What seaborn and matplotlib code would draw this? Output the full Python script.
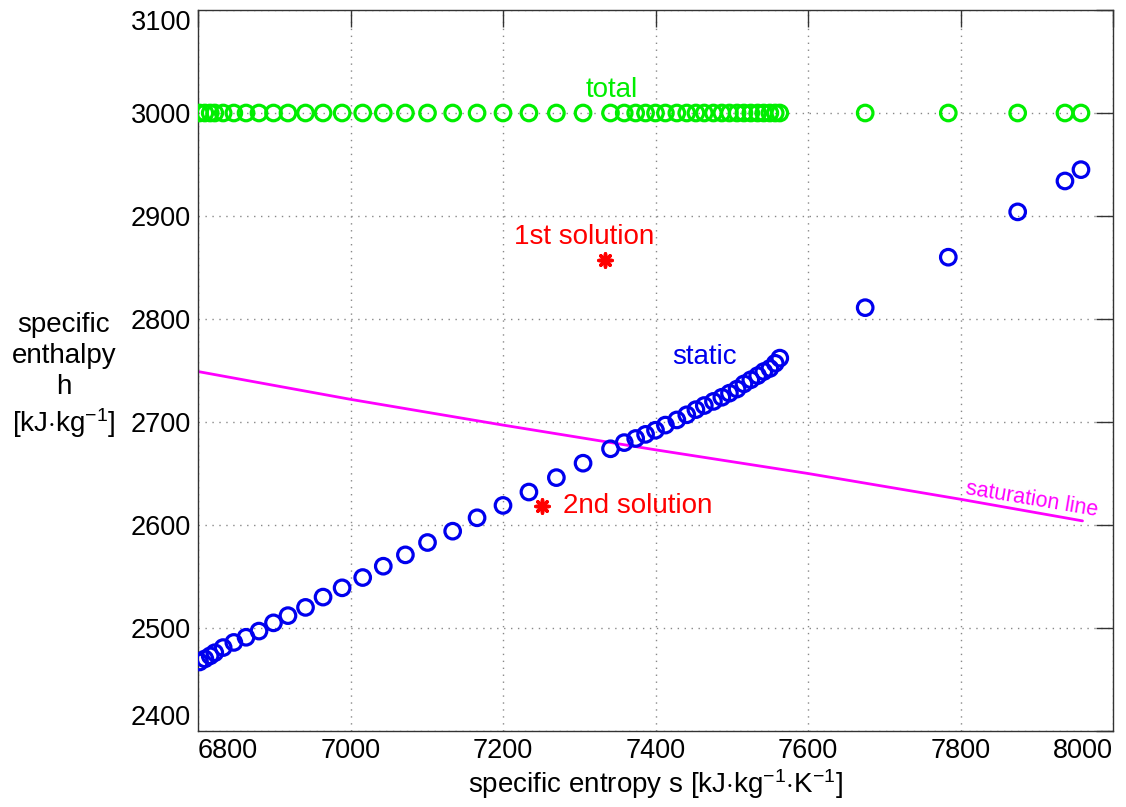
import matplotlib
matplotlib.use("Agg")
import matplotlib.pyplot as plt
import seaborn as sns
import pandas as pd

# ---- data ----
s_states = [6802, 6809, 6816, 6822, 6833, 6847, 6863, 6880, 6899, 6918,
            6941, 6964, 6989, 7016, 7043, 7072, 7101, 7134, 7166, 7200,
            7234, 7270, 7305, 7341, 7359, 7374, 7387, 7400, 7413, 7428,
            7441, 7453, 7464, 7476, 7487, 7497, 7507, 7516, 7525, 7534,
            7542, 7550, 7557, 7563, 7675, 7784, 7875, 7937, 7958]
h_total = [3000, 3000, 3000, 3000, 3000, 3000, 3000, 3000, 3000, 3000,
           3000, 3000, 3000, 3000, 3000, 3000, 3000, 3000, 3000, 3000,
           3000, 3000, 3000, 3000, 3000, 3000, 3000, 3000, 3000, 3000,
           3000, 3000, 3000, 3000, 3000, 3000, 3000, 3000, 3000, 3000,
           3000, 3000, 3000, 3000, 3000, 3000, 3000, 3000, 3000]
h_static = [2467, 2470, 2473, 2476, 2481, 2486, 2491, 2497, 2505, 2512,
            2520, 2530, 2539, 2549, 2560, 2571, 2583, 2594, 2607, 2619,
            2632, 2646, 2660, 2674, 2680, 2684, 2688, 2692, 2697, 2702,
            2707, 2712, 2716, 2720, 2724, 2728, 2732, 2737, 2741, 2745,
            2749, 2752, 2757, 2762, 2811, 2860, 2904, 2934, 2945]
sat_s = [6800, 7000, 7200, 7400, 7600, 7800, 7960]
sat_h = [2749, 2722, 2697, 2673, 2650, 2625, 2604]
sol_s = [7334, 7251]
sol_h = [2857, 2618]
sol_labels = ["1st solution", "2nd solution"]
xticks = [6800, 7000, 7200, 7400, 7600, 7800, 8000]
yticks = [2400, 2500, 2600, 2700, 2800, 2900, 3000, 3100]

sns.set_style("white")
plt.rcParams['font.family'] = ['Liberation Sans', 'DejaVu Sans']
plt.rcParams['mathtext.fontset'] = 'custom'
plt.rcParams['mathtext.rm'] = 'Liberation Sans'
plt.rcParams['mathtext.it'] = 'Liberation Sans'
plt.rcParams['text.color'] = 'black'
plt.rcParams['axes.labelcolor'] = 'black'

FS = 20

fig = plt.figure(figsize=(11.26, 8.07), dpi=100)
ax = fig.add_axes([198/1126, 1-731/807, (1113-198)/1126, (731-10)/807])

df = pd.DataFrame({"s": s_states, "ht": h_total, "hs": h_static})

ax.grid(True, linestyle=(0, (1, 4)), color='#888888', linewidth=1.0)
ax.set_axisbelow(True)

sns.lineplot(x=sat_s, y=sat_h, color='#ff00ff', linewidth=2, ax=ax, zorder=2)
sns.scatterplot(data=df, x="s", y="ht", marker='o', s=125, facecolors='none',
                edgecolor='#00ee00', linewidth=2.3, ax=ax, zorder=3)
sns.scatterplot(data=df, x="s", y="hs", marker='o', s=125, facecolors='none',
                edgecolor='#0000ee', linewidth=2.3, ax=ax, zorder=3)
sns.scatterplot(x=sol_s, y=sol_h, marker=(8, 2, 0), s=90, color='red',
                edgecolor='red', linewidth=2.5, ax=ax, zorder=4)

ax.set_xlim(6800, 8000)
ax.set_ylim(2400, 3100)
ax.set_xticks(xticks)
ax.set_yticks(yticks)
ax.tick_params(direction='in', length=12, width=1, top=True, right=True,
               labelsize=19.5, colors='#333333', labelcolor='black', pad=5)
for sp in ax.spines.values():
    sp.set_color('#333333')
    sp.set_linewidth(1)

xl = ax.get_xticklabels()
xl[0].set_ha('left')
xl[-1].set_ha('right')
yl = ax.get_yticklabels()
yl[0].set_va('bottom')
yl[-1].set_va('top')

ax.set_xlabel(r"specific entropy s [kJ$\cdot$kg$^{-1}$$\cdot$K$^{-1}$]", fontsize=FS, labelpad=2)
ax.set_ylabel("")
fig.text(64/1126, 1-376/807, "specific\nenthalpy\nh\n" + r"[kJ$\cdot$kg$^{-1}$]",
         ha='center', va='center', fontsize=FS, linespacing=1.25)

ax.text(7343, 3022, "total", color='#00ee00', fontsize=FS, ha='center', va='center')
ax.text(7464, 2763, "static", color='#0000ee', fontsize=FS, ha='center', va='center')
ax.text(7307, 2880, sol_labels[0], color='red', fontsize=FS, ha='center', va='center')
ax.text(7279, 2618, sol_labels[1], color='red', fontsize=FS, ha='left', va='center')
ax.text(7894, 2625, "saturation line", color='#ff00ff', fontsize=15.5, ha='center',
        va='center', rotation=-9.5)

fig.savefig("out.png", dpi=100)
